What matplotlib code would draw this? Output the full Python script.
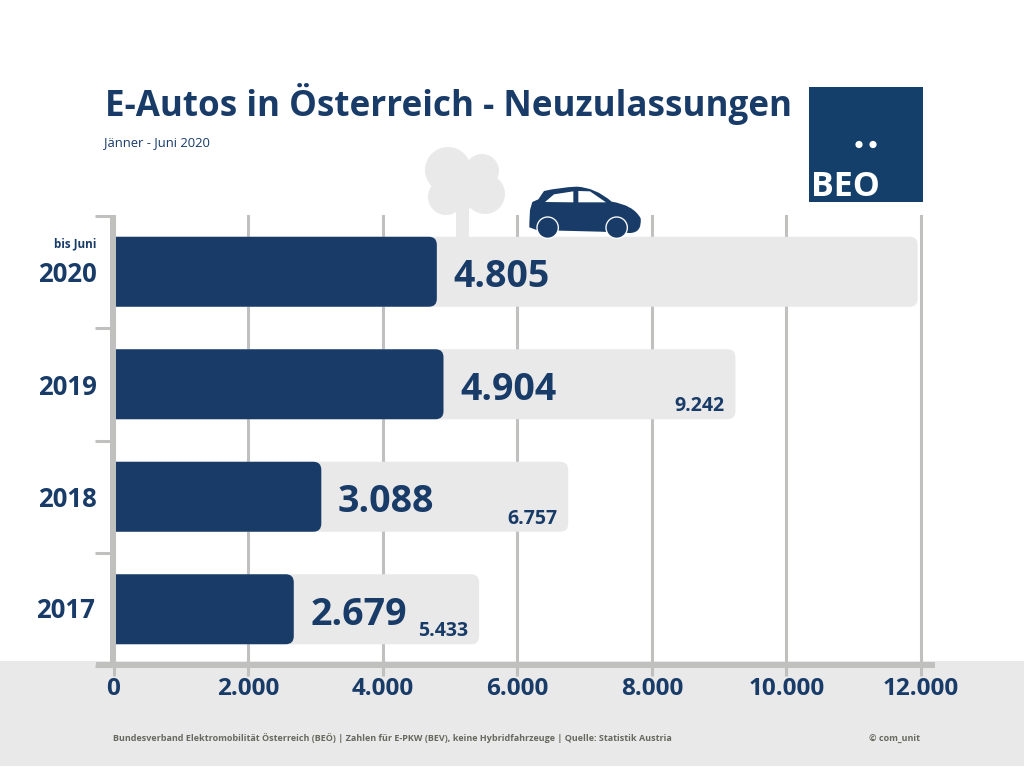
import matplotlib
matplotlib.use("Agg")
import matplotlib.pyplot as plt
from matplotlib.patches import Rectangle, Circle, PathPatch
from matplotlib.path import Path
from matplotlib.transforms import Affine2D

years = ["2017", "2018", "2019", "2020"]
jan_jun = [2679, 3088, 4904, 4805]
full_year = [5433, 6757, 9242, 11950]
full_labels = ["5.433", "6.757", "9.242", ""]
x_ticks = [0, 2000, 4000, 6000, 8000, 10000, 12000]
x_tick_labels = ["0", "2.000", "4.000", "6.000", "8.000", "10.000", "12.000"]

NAVY = "#183B68"
LOGO = "#143F6B"
LIGHT = "#E9E9E9"
GRID = "#C0C0BE"
FOOT = "#68685F"
plt.rcParams["font.family"] = ["Open Sans", "DejaVu Sans"]

W, H = 1024, 767
fig = plt.figure(figsize=(W / 100, H / 100), dpi=100, facecolor="white")

bg = fig.add_axes([0, 0, 1, 1], zorder=0)
bg.set_xlim(0, W); bg.set_ylim(H, 0); bg.axis("off")
bg.add_patch(Rectangle((0, 661), W, 105, fc=LIGHT, ec="none"))

L, R, T, B = 113.5, 921, 215.5, 665.5
ax = fig.add_axes([L / W, 1 - B / H, (R - L) / W, (B - T) / H], zorder=1)
ax.patch.set_alpha(0)
ax.set_xlim(0, 12000)
ax.set_ylim(-0.5, 3.5)
for s in ax.spines.values():
    s.set_visible(False)
ax.set_xticks(x_ticks)
ax.set_xticklabels(x_tick_labels, fontsize=17.5, fontweight="bold", color=NAVY)
ax.tick_params(axis="x", length=7, width=2.2, color=GRID, pad=1.5)
ax.set_yticks([-0.5, 0.5, 1.5, 2.5, 3.5])
ax.set_yticklabels([])
ax.tick_params(axis="y", length=14, width=2.2, color=GRID)
ax.grid(axis="x", color=GRID, lw=2.2, zorder=0)
for gl in ax.xaxis.get_gridlines():
    gl.set_clip_on(False)
ax.set_axisbelow(True)

px_x = 12000 / (R - L)
px_y = 4 / (B - T)
hgt = 70 * px_y
rx, ry = 8 * px_x, 8 * px_y


def bar_path(val, yc):
    """Bar with a square axis end and rounded outer corners, in data units."""
    y0, y1 = yc - hgt / 2, yc + hgt / 2
    verts = [(0, y0), (val - rx, y0), (val, y0), (val, y0 + ry), (val, y1 - ry),
             (val, y1), (val - rx, y1), (0, y1), (0, y0)]
    codes = [Path.MOVETO, Path.LINETO, Path.CURVE3, Path.CURVE3, Path.LINETO,
             Path.CURVE3, Path.CURVE3, Path.LINETO, Path.CLOSEPOLY]
    return Path(verts, codes)


for i, y in enumerate(years):
    ax.add_patch(PathPatch(bar_path(full_year[i], i), fc=LIGHT, ec="none", zorder=2, clip_on=False))
    ax.add_patch(PathPatch(bar_path(jan_jun[i], i), fc=NAVY, ec="none", zorder=3, clip_on=False))
    ax.annotate(f"{jan_jun[i] / 1000:.3f}", (jan_jun[i], i), xytext=(12, -4),
                textcoords="offset points", ha="left", va="center", fontsize=27,
                fontweight="bold", color=NAVY, zorder=5)
    if full_labels[i]:
        ax.annotate(full_labels[i], (full_year[i], i), xytext=(-8, -16), textcoords="offset points",
                    ha="right", va="center", fontsize=14, fontweight="bold", color=NAVY, zorder=5)
    off = (-13, -1) if i == 0 else (-12, -2)
    ax.annotate(y, (0, i), xytext=off, textcoords="offset points",
                ha="right", va="center", fontsize=18.5, fontweight="bold", color=NAVY, zorder=5,
                annotation_clip=False)
ax.annotate("bis Juni", (0, 3), xytext=(-12, 20), textcoords="offset points", ha="right",
            va="center", fontsize=8.4, fontweight="bold", color=NAVY, annotation_clip=False)

top = fig.add_axes([0, 0, 1, 1], zorder=2)
top.set_xlim(0, W); top.set_ylim(H, 0); top.axis("off"); top.patch.set_alpha(0)
top.add_patch(Rectangle((110, 215), 6, 453, fc=GRID, ec="none"))
top.add_patch(Rectangle((96, 662), 839, 6, fc=GRID, ec="none"))

top.text(105, 116, "E-Autos in Österreich - Neuzulassungen", fontsize=25.2, fontweight="bold",
         color=NAVY, ha="left", va="baseline")
top.text(104, 146, "Jänner - Juni 2020", fontsize=9.4, color=NAVY, ha="left", va="baseline")
top.text(113, 741, "Bundesverband Elektromobilität Österreich (BEÖ) | Zahlen für E-PKW (BEV), keine Hybridfahrzeuge | Quelle: Statistik Austria",
         fontsize=6.5, fontweight="bold", color=FOOT, ha="left", va="baseline")
top.text(869, 741, "© com_unit", fontsize=6.5, fontweight="bold", color=FOOT, ha="left", va="baseline")

top.add_patch(Rectangle((809, 87), 114, 115, fc=LOGO, ec="none"))
top.add_patch(Circle((859, 144.5), 3.6, fc="white", ec="none"))
top.add_patch(Circle((873, 144.5), 3.6, fc="white", ec="none"))
top.text(811, 196, "BEO", fontsize=24.5, fontweight="bold", color="white", ha="left", va="baseline")

top.add_patch(Rectangle((456, 195), 13, 43, fc=LIGHT, ec="none"))
for cx, cy, r in ((448, 170, 23), (482, 171, 17), (485, 194, 20), (446, 197, 18), (465, 185, 24)):
    top.add_patch(Circle((cx, cy), r, fc=LIGHT, ec="none"))

tf = Affine2D().scale(1 / 3).translate(400, 130) + top.transData
C3, L2, M = Path.CURVE3, Path.LINETO, Path.MOVETO
verts = [(388, 280), (390, 240), (397, 216), (415, 208), (432, 183), (480, 172), (530, 170),
         (585, 172), (635, 215), (700, 225), (722, 265), (726, 308), (690, 309),
         (600, 305), (480, 302), (410, 300), (388, 292), (388, 280), (388, 280)]
codes = [M, L2, L2, L2, L2, C3, C3, C3, C3, C3, C3, C3, C3, L2, L2, L2, L2, L2, Path.CLOSEPOLY]
top.add_patch(PathPatch(Path(verts, codes), fc=NAVY, ec="none", transform=tf))
for pts in ([(435, 216), (462, 193), (520, 184), (520, 217)],
            [(535, 183), (570, 184), (618, 217), (535, 217)]):
    top.add_patch(PathPatch(Path(pts + [pts[0]], [M, L2, L2, L2, Path.CLOSEPOLY]),
                            fc="white", ec="none", transform=tf))
for cx in (443, 650):
    top.add_patch(Circle((cx, 293), 34, fc="white", ec="none", transform=tf))
    top.add_patch(Circle((cx, 293), 30, fc=NAVY, ec="none", transform=tf))

fig.savefig("out.png", dpi=100, facecolor="white")
